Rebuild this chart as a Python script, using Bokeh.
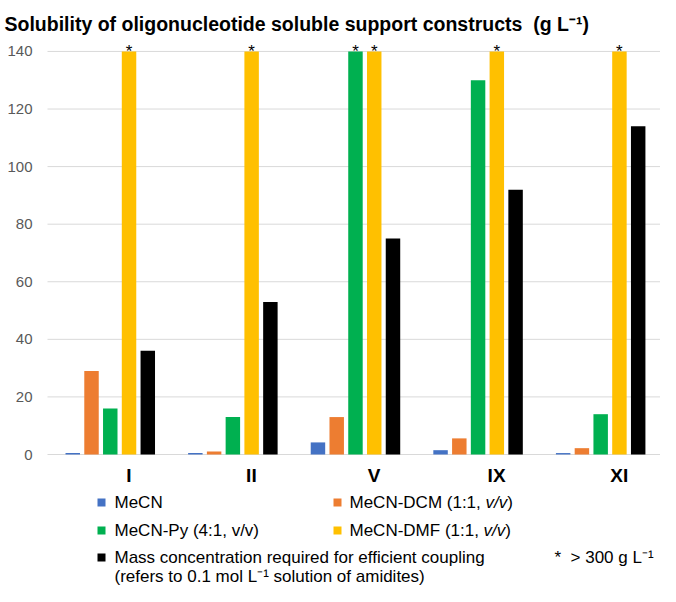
from bokeh.plotting import figure
from bokeh.models import ColumnDataSource, Label, BoxAnnotation, Range1d
from bokeh.transform import dodge
from bokeh.core.properties import value
from bokeh.embed import file_html
from bokeh.resources import INLINE

# ---------------- data ----------------
categories = ["I", "II", "V", "IX", "XI"]
mecn = [0.5, 0.5, 4.2, 1.5, 0.5]
mecn_dcm = [29, 1, 13, 5.6, 2.2]
mecn_py = [16, 13, 300, 130, 14]          # 300 = "> 300 g/L" (off scale)
mecn_dmf = [300, 300, 300, 300, 300]      # 300 = "> 300 g/L" (off scale)
required = [36, 53, 75, 92, 114]
series_values = [mecn, mecn_dcm, mecn_py, mecn_dmf, required]
series_colors = ["#4472C4", "#ED7D31", "#00B050", "#FFC000", "#000000"]
y_ticks = [0, 20, 40, 60, 80, 100, 120, 140]
axis_max = 140
title_text = "Solubility of oligonucleotide soluble support constructs \u00a0(g L\u207b\u00b9)"
legend_mecn = "MeCN"
legend_dcm = ("MeCN-DCM (1:1, ", "v/v", ")")
legend_py = "MeCN-Py (4:1, v/v)"
legend_dmf = ("MeCN-DMF (1:1, ", "v/v", ")")
legend_req = ("Mass concentration required for efficient coupling",
              "(refers to 0.1 mol L\u207b\u00b9 solution of amidites)")
note_text = "*\u00a0 > 300 g L\u207b\u00b9"

FONT = "Liberation Sans"

# ---------------- layout (pixels) ----------------
W, H = 660, 586
px_x = 122.6          # pixels per category
first_cat_px = 108.3  # centre of first category from left edge
px_y = 2.879          # pixels per g/L
zero_px = 132         # y=0 distance from bottom edge

x0 = -first_cat_px / px_x
y0 = -zero_px / px_y
p = figure(x_range=Range1d(x0, x0 + W / px_x), y_range=Range1d(y0, y0 + H / px_y),
           width=W, height=H, output_backend="svg", toolbar_location=None,
           x_axis_location=None, y_axis_location=None, min_border=0)
p.outline_line_color = None
p.background_fill_color = "white"
p.border_fill_color = "white"
p.grid.visible = False

n = len(categories)
idx = list(range(n))

# gridlines
p.segment(x0=-0.5, x1=n - 0.5, y0=y_ticks, y1=y_ticks, line_color="#D9D9D9", line_width=1)
# y tick labels
p.text(x=[-0.5] * len(y_ticks), y=y_ticks, text=[str(t) for t in y_ticks],
       x_offset=-15, text_align="right", text_baseline="middle",
       text_font=value(FONT), text_font_size="15px", text_color="#595959")

offsets = [-0.294, -0.141, 0.012, 0.165, 0.318]
bar_w = 0.118

for vals, col, off in zip(series_values, series_colors, offsets):
    tops = [min(v, axis_max) for v in vals]
    src = ColumnDataSource(dict(x=idx, top=tops))
    p.vbar(x=dodge("x", off), top="top", width=bar_w, source=src,
           fill_color=col, line_color=None)
    over = [i for i, v in zip(idx, vals) if v > axis_max]
    if over:
        s2 = ColumnDataSource(dict(x=over, y=[axis_max] * len(over), t=["*"] * len(over)))
        p.text(x=dodge("x", off), y="y", text="t", source=s2,
               text_align="center", text_baseline="alphabetic",
               text_font=value(FONT), text_font_size="17px", text_color="#000000")

# category labels
p.text(x=idx, y=[0] * n, text=categories, x_offset=20, y_offset=21,
       text_align="center", text_baseline="alphabetic",
       text_font=value(FONT), text_font_style="bold", text_font_size="19px",
       text_color="#000000")

# title
p.add_layout(Label(x=4, y=563, x_units="screen", y_units="screen", text=title_text,
                   text_font=FONT, text_font_style="bold", text_font_size="19.5px",
                   text_color="#000000", text_baseline="alphabetic"))

# legend
FS = 17
def lab(x, y, text, style="normal"):
    p.add_layout(Label(x=x, y=y, x_units="screen", y_units="screen", text=text,
                       text_font=FONT, text_font_style=style, text_font_size=f"{FS}px",
                       text_color="#000000", text_baseline="middle"))

def square(x, y, color):
    p.add_layout(BoxAnnotation(left=x - 4, right=x + 4, bottom=y - 4, top=y + 4,
                               left_units="screen", right_units="screen",
                               bottom_units="screen", top_units="screen",
                               fill_color=color, fill_alpha=1, line_color=None))

lx_sq, lx_tx = 101, 114
rx_sq, rx_tx = 337, 349
r1, r2, r3, r4 = 84, 56, 29, 10

# widths (em) of the upright prefixes and the italic part, for placing the pieces
dcm_prefix_em, dmf_prefix_em, italic_em = 8.000, 7.889, 1.278

square(lx_sq, r1, series_colors[0]); lab(lx_tx, r1, legend_mecn)
square(rx_sq, r1, series_colors[1]); lab(rx_tx, r1, legend_dcm[0])
lab(rx_tx + dcm_prefix_em * FS, r1, legend_dcm[1], "italic")
lab(rx_tx + (dcm_prefix_em + italic_em) * FS, r1, legend_dcm[2])
square(lx_sq, r2, series_colors[2]); lab(lx_tx, r2, legend_py)
square(rx_sq, r2, series_colors[3]); lab(rx_tx, r2, legend_dmf[0])
lab(rx_tx + dmf_prefix_em * FS, r2, legend_dmf[1], "italic")
lab(rx_tx + (dmf_prefix_em + italic_em) * FS, r2, legend_dmf[2])
square(lx_sq, r3, series_colors[4])
lab(lx_tx, r3, legend_req[0])
lab(lx_tx, r4, legend_req[1])
lab(554, r3, note_text)

open("out.html", "w").write(file_html(p, INLINE))
